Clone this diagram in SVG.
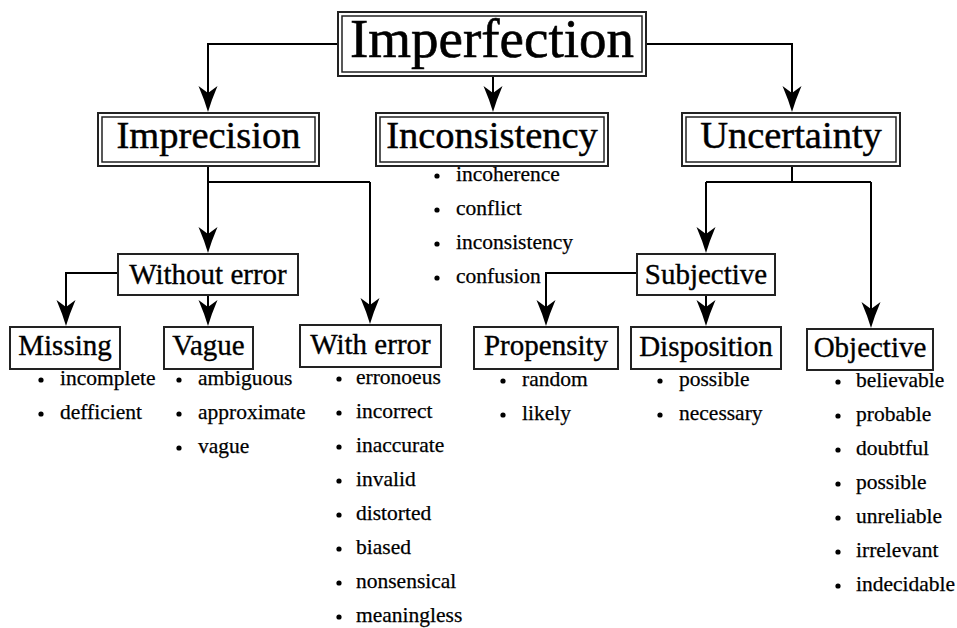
<svg xmlns="http://www.w3.org/2000/svg" width="957" height="628" viewBox="0 0 957 628">
<style>
text{font-family:"Liberation Serif","Times New Roman",serif;fill:#000;stroke:#000;stroke-width:0.3}
.t0{font-size:55px;text-anchor:middle;stroke-width:0.6}
.t1{font-size:38.5px;text-anchor:middle;stroke-width:0.45}
.t2{font-size:29px;text-anchor:middle;stroke-width:0.35}
.li{font-size:21.5px;stroke-width:0.25}
.ob{fill:#fff;stroke:#222;stroke-width:2}
.ib{fill:none;stroke:#222;stroke-width:1.5}
.sb{fill:#fff;stroke:#222;stroke-width:2}
.c{fill:none;stroke:#000;stroke-width:2;marker-end:url(#ah)}
.cn{fill:none;stroke:#000;stroke-width:2}
.bu{fill:#000}
</style>
<defs>
<marker id="ah" markerUnits="userSpaceOnUse" viewBox="0 0 26 20" markerWidth="26" markerHeight="20" refX="23" refY="10" orient="auto">
<path d="M26,10 Q14,6.5 0,0.5 L7,10 L0,19.5 Q14,13.5 26,10 Z" fill="#000"/>
</marker>
</defs>
<rect width="957" height="628" fill="#fff"/>
<g id="connectors">
<path class="c" d="M337,44 H208 V109"/>
<path class="c" d="M647,44 H792 V109"/>
<path class="c" d="M493,77 V109"/>
<path class="cn" d="M208,167 V182 H370"/>
<path class="c" d="M208,167 V250"/>
<path class="c" d="M370,182 V321"/>
<path class="cn" d="M792,167 V182"/>
<path class="cn" d="M706,182 H871"/>
<path class="c" d="M706,182 V250"/>
<path class="c" d="M871,182 V325"/>
<path class="c" d="M117,273 H66 V323"/>
<path class="c" d="M208,296 V323"/>
<path class="c" d="M636,273 H546 V323"/>
<path class="c" d="M706,296 V323"/>
</g>
<g id="imperfection">
<rect class="ob" x="338" y="12" width="308" height="64"/>
<rect class="ib" x="342" y="16" width="300" height="56"/>
<text class="t0" x="492" y="57">Imperfection</text>
</g>
<g id="imprecision">
<rect class="ob" x="98" y="113" width="221" height="53"/>
<rect class="ib" x="102" y="117" width="213" height="45"/>
<text class="t1" x="208.5" y="148">Imprecision</text>
</g>
<g id="inconsistency">
<rect class="ob" x="376" y="113" width="232" height="53"/>
<rect class="ib" x="380" y="117" width="224" height="45"/>
<text class="t1" x="492" y="148">Inconsistency</text>
<circle class="bu" cx="437" cy="176" r="2.6"/><text class="li" x="456" y="181">incoherence</text>
<circle class="bu" cx="437" cy="210" r="2.6"/><text class="li" x="456" y="215">conflict</text>
<circle class="bu" cx="437" cy="244" r="2.6"/><text class="li" x="456" y="249">inconsistency</text>
<circle class="bu" cx="437" cy="278" r="2.6"/><text class="li" x="456" y="283">confusion</text>
</g>
<g id="uncertainty">
<rect class="ob" x="682" y="113" width="218" height="53"/>
<rect class="ib" x="686" y="117" width="210" height="45"/>
<text class="t1" x="791" y="148">Uncertainty</text>
</g>
<g id="without-error">
<rect class="sb" x="118" y="254" width="180" height="41"/>
<text class="t2" x="208" y="284">Without error</text>
</g>
<g id="subjective">
<rect class="sb" x="637" y="254" width="138" height="41"/>
<text class="t2" x="706" y="284">Subjective</text>
</g>
<g id="missing">
<rect class="sb" x="10" y="327" width="110" height="42"/>
<text class="t2" x="65" y="355">Missing</text>
<circle class="bu" cx="41" cy="380" r="2.6"/><text class="li" x="60" y="385">incomplete</text>
<circle class="bu" cx="41" cy="414" r="2.6"/><text class="li" x="60" y="419">defficient</text>
</g>
<g id="vague">
<rect class="sb" x="164" y="327" width="89" height="42"/>
<text class="t2" x="208.5" y="355">Vague</text>
<circle class="bu" cx="179" cy="380" r="2.6"/><text class="li" x="198" y="385">ambiguous</text>
<circle class="bu" cx="179" cy="414" r="2.6"/><text class="li" x="198" y="419">approximate</text>
<circle class="bu" cx="179" cy="448" r="2.6"/><text class="li" x="198" y="453">vague</text>
</g>
<g id="with-error">
<rect class="sb" x="300" y="325" width="141" height="42"/>
<text class="t2" x="370.5" y="354">With error</text>
<circle class="bu" cx="339" cy="379" r="2.6"/><text class="li" x="356" y="384">erronoeus</text>
<circle class="bu" cx="339" cy="413" r="2.6"/><text class="li" x="356" y="418">incorrect</text>
<circle class="bu" cx="339" cy="447" r="2.6"/><text class="li" x="356" y="452">inaccurate</text>
<circle class="bu" cx="339" cy="481" r="2.6"/><text class="li" x="356" y="486">invalid</text>
<circle class="bu" cx="339" cy="515" r="2.6"/><text class="li" x="356" y="520">distorted</text>
<circle class="bu" cx="339" cy="549" r="2.6"/><text class="li" x="356" y="554">biased</text>
<circle class="bu" cx="339" cy="583" r="2.6"/><text class="li" x="356" y="588">nonsensical</text>
<circle class="bu" cx="339" cy="617" r="2.6"/><text class="li" x="356" y="622">meaningless</text>
</g>
<g id="propensity">
<rect class="sb" x="474" y="327" width="144" height="42"/>
<text class="t2" x="546" y="355">Propensity</text>
<circle class="bu" cx="503" cy="381" r="2.6"/><text class="li" x="522" y="386">random</text>
<circle class="bu" cx="503" cy="415" r="2.6"/><text class="li" x="522" y="420">likely</text>
</g>
<g id="disposition">
<rect class="sb" x="631" y="327" width="150" height="42"/>
<text class="t2" x="706" y="356">Disposition</text>
<circle class="bu" cx="660" cy="381" r="2.6"/><text class="li" x="679" y="386">possible</text>
<circle class="bu" cx="660" cy="415" r="2.6"/><text class="li" x="679" y="420">necessary</text>
</g>
<g id="objective">
<rect class="sb" x="807" y="329" width="126" height="41"/>
<text class="t2" x="870" y="357">Objective</text>
<circle class="bu" cx="838" cy="382" r="2.6"/><text class="li" x="856" y="387">believable</text>
<circle class="bu" cx="838" cy="416" r="2.6"/><text class="li" x="856" y="421">probable</text>
<circle class="bu" cx="838" cy="450" r="2.6"/><text class="li" x="856" y="455">doubtful</text>
<circle class="bu" cx="838" cy="484" r="2.6"/><text class="li" x="856" y="489">possible</text>
<circle class="bu" cx="838" cy="518" r="2.6"/><text class="li" x="856" y="523">unreliable</text>
<circle class="bu" cx="838" cy="552" r="2.6"/><text class="li" x="856" y="557">irrelevant</text>
<circle class="bu" cx="838" cy="586" r="2.6"/><text class="li" x="856" y="591">indecidable</text>
</g>
</svg>
